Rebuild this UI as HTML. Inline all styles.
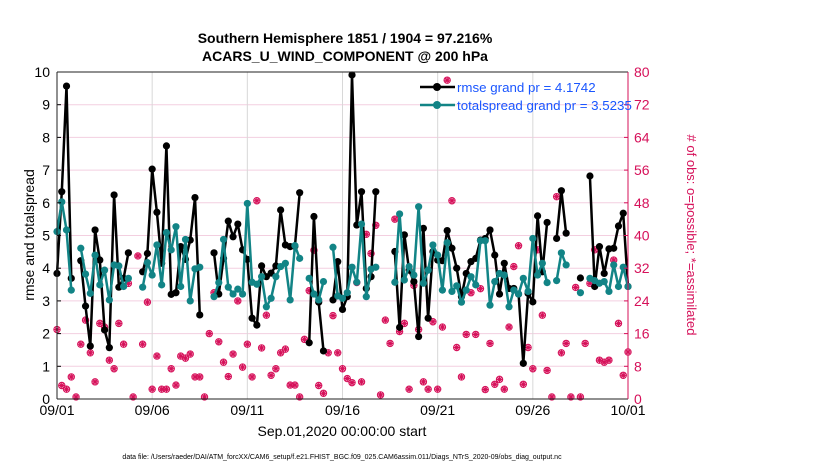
<!DOCTYPE html>
<html><head><meta charset="utf-8"><style>
body{margin:0;background:#fff;}
svg{display:block;font-family:"Liberation Sans",sans-serif;}
</style></head><body>
<svg id="chart" width="830" height="470" viewBox="0 0 830 470">
<text x="345" y="43" text-anchor="middle" font-size="14" font-weight="bold">Southern Hemisphere 1851 / 1904 = 97.216%</text>
<text x="345" y="61" text-anchor="middle" font-size="14" font-weight="bold">ACARS_U_WIND_COMPONENT @ 200 hPa</text>
<g id="grid"></g><g id="obs"></g><g id="lines"></g><g id="axes"></g>
<text transform="translate(34,235) rotate(-90)" text-anchor="middle" font-size="14">rmse and totalspread</text>
<text transform="translate(687,235) rotate(90)" text-anchor="middle" font-size="13" fill="#d6115a"># of obs: o=possible; *=assimilated</text>
<text x="342" y="436" text-anchor="middle" font-size="14">Sep.01,2020 00:00:00 start</text>
<text x="342" y="459" text-anchor="middle" font-size="7">data file: /Users/raeder/DAI/ATM_forcXX/CAM6_setup/f.e21.FHIST_BGC.f09_025.CAM6assim.011/Diags_NTrS_2020-09/obs_diag_output.nc</text>
<g>
<line x1="420" y1="87" x2="455" y2="87" stroke="#000" stroke-width="2.5"/><circle cx="437" cy="87" r="4" fill="#000"/>
<text x="457" y="92" font-size="13.3" fill="#1a56ff">rmse grand pr = 4.1742</text>
<line x1="420" y1="105" x2="455" y2="105" stroke="#128486" stroke-width="2.5"/><circle cx="437" cy="105" r="4" fill="#128486"/>
<text x="457" y="110" font-size="13.3" fill="#1a56ff">totalspread grand pr = 3.5235</text>
</g>
</svg>
<script>
const rmse=[3.84,6.34,9.57,3.69,null,4.23,2.84,1.62,5.17,4.25,2.11,1.57,6.24,3.42,3.69,4.47,null,null,3.89,4.45,7.03,5.71,4.15,7.74,3.2,3.25,4.66,4.27,4.86,6.16,2.57,
null,null,4.47,3.21,4.3,5.44,4.96,5.35,4.56,4.27,2.47,2.26,4.07,3.74,3.85,4.07,5.78,4.71,4.66,4.67,6.31,null,1.72,5.58,2.96,1.47,null,3.03,4.20,
2.74,3.13,9.91,5.32,6.34,3.38,3.74,6.34,null,null,null,4.51,2.19,5.02,3.94,3.59,1.91,5.22,2.47,4.51,4.25,4.23,5.15,4.61,4.00,3.13,3.84,4.20,4.30,4.86,
4.91,5.17,4.40,3.21,4.15,3.38,3.38,3.21,1.09,3.23,2.97,5.60,3.89,5.40,null,4.91,6.37,5.07,null,null,3.7,null,6.82,3.44,4.66,3.84,4.59,4.61,5.29,5.68,3.44];
const spread=[5.12,6.03,5.17,3.33,null,4.61,3.82,3.23,4.40,3.49,3.94,3.03,4.10,4.07,3.44,3.69,null,null,3.42,4.17,3.79,4.71,3.49,5.09,4.56,5.27,3.44,4.88,3.0,3.98,4.03,
null,null,3.13,3.56,4.88,3.42,3.21,3.36,3.21,5.98,3.57,3.51,3.74,2.82,3.08,3.74,4.05,4.15,3.03,4.69,4.30,null,3.69,3.21,3.03,3.59,null,4.64,3.15,
3.08,3.25,4.03,3.57,5.35,3.13,3.97,4.03,null,null,null,3.57,5.66,3.64,4.05,3.79,5.88,3.54,3.94,4.71,4.40,3.33,4.78,3.29,3.46,2.96,3.33,3.74,3.49,4.84,
4.84,2.87,3.59,3.84,3.79,2.82,3.33,3.21,3.69,3.29,4.91,3.79,4.15,3.56,null,3.62,4.47,4.10,null,null,3.25,null,3.69,3.62,3.54,3.59,3.29,4.10,3.44,4.03,3.44];
const nobs=[17,3.3,2.4,5.4,0.5,13.4,19.3,11.3,4.2,18.5,17.6,9.5,7.4,18.5,13.4,28.3,0.5,35,13.4,23.7,2.4,10.5,2.4,2.4,7.4,3.4,10.5,10,11,5.4,
5.4,0.5,16,26,14,9,5.5,11,24,7.8,13.4,5.4,48.5,12.5,20.5,5.8,7.4,11.3,12.2,3.4,3.4,0.5,14.6,26.5,36.4,3.3,1.4,11.3,20.4,
11.3,7.4,5,4,28.5,4.2,40.3,35.6,42.5,1,19.3,13.6,44,16.5,18.5,2.4,27.8,17,4.2,2.4,18.9,2.4,17.6,78,48.5,12.6,5.4,15.8,26,
15.8,27,2.3,13.6,3.6,4.8,2.4,17.6,32.4,37.5,3.6,12.6,7.4,36.5,20.5,7,0.5,49.5,11.3,13.6,0.5,27.3,0.5,13.6,28.3,36.5,9.5,9,9.5,34,18.5,5.8,11.5];
const xTicks=["09/01","09/06","09/11","09/16","09/21","09/26","10/01"];
const yTicks=[0,1,2,3,4,5,6,7,8,9,10];
const rTicks=[0,8,16,24,32,40,48,56,64,72,80];

const L=57,R=628,T=72,B=399,NS="http://www.w3.org/2000/svg";
const xs=i=>L+i*(R-L)/120, ys=v=>B-v*(B-T)/10, yr=v=>B-v*(B-T)/80;
function mk(p,tag,a){const e=document.createElementNS(NS,tag);for(const k in a)e.setAttribute(k,a[k]);p.appendChild(e);return e;}
const G=document.getElementById('grid'),O=document.getElementById('obs'),Ln=document.getElementById('lines'),A=document.getElementById('axes');
rTicks.forEach((t,k)=>{if(k>0&&k<rTicks.length-1){const e=mk(G,'line',{x1:L,x2:R,y1:yr(t),y2:yr(t),stroke:'#f3cfe0','stroke-width':1});

}});
xTicks.forEach((t,k)=>{const x=L+k*(R-L)/(xTicks.length-1);
if(k>0&&k<xTicks.length-1){const e=mk(G,'line',{x1:x,x2:x,y1:T,y2:B,stroke:'#d8d8d8','stroke-width':1});

}
const tx=mk(A,'text',{x:x,y:415,'text-anchor':'middle','font-size':14});tx.textContent=t;

});
yTicks.forEach(t=>{const tx=mk(A,'text',{x:50,y:ys(t)+5,'text-anchor':'end','font-size':14});tx.textContent=t;


mk(A,'line',{x1:L,x2:L+4,y1:ys(t),y2:ys(t),stroke:'#000'});});
rTicks.forEach(t=>{const tx=mk(A,'text',{x:634,y:yr(t)+5,'font-size':14,fill:'#d6115a'});tx.textContent=t;


mk(A,'line',{x1:R-4,x2:R,y1:yr(t),y2:yr(t),stroke:'#d6115a'});});
mk(A,'line',{x1:L,x2:R,y1:T,y2:T,stroke:'#222'});
mk(A,'line',{x1:L,x2:R,y1:B,y2:B,stroke:'#222'});
mk(A,'line',{x1:L,x2:L,y1:T,y2:B,stroke:'#222'});
mk(A,'line',{x1:R,x2:R,y1:T,y2:B,stroke:'#d6115a'});
nobs.forEach((v,i)=>{const x=xs(i),y=yr(v);
const g=mk(O,'g',{});


mk(g,'circle',{cx:x,cy:y,r:3.2,fill:'none',stroke:'#d6115a','stroke-width':1});
[0,45,90,135].forEach(a=>{const r=a*Math.PI/180;mk(g,'line',{x1:x-3*Math.cos(r),y1:y-3*Math.sin(r),x2:x+3*Math.cos(r),y2:y+3*Math.sin(r),stroke:'#d6115a','stroke-width':1.2});});});
function series(data,color,name){let d='',pen=false;
data.forEach((v,i)=>{if(v==null){pen=false;return;}d+=(pen?'L':'M')+xs(i).toFixed(1)+','+ys(v).toFixed(1);pen=true;});
const p=mk(Ln,'path',{d:d,fill:'none',stroke:color,'stroke-width':2.5,'stroke-linejoin':'round'});


data.forEach((v,i)=>{if(v==null)return;const c=mk(Ln,'circle',{cx:xs(i),cy:ys(v),r:3.6,fill:color});

});}
series(rmse,'#000','rmse');
series(spread,'#128486','totalspread');
</script>
</body></html>
